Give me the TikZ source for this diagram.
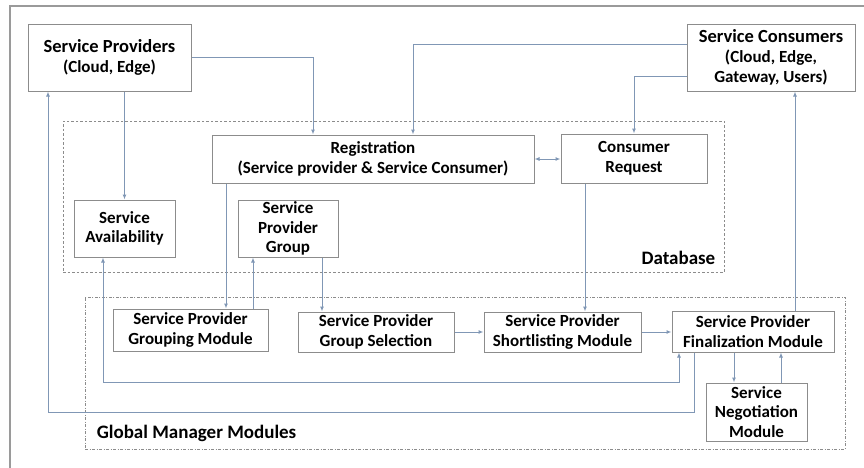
\documentclass[tikz,border=0pt]{standalone}
\usepackage{fontspec}
\setmainfont{Carlito}
\usepackage{tikz}
\usetikzlibrary{arrows.meta,positioning,calc}
\definecolor{boxgray}{HTML}{8C8C8C}
\definecolor{lnblue}{HTML}{8097B5}
\definecolor{framegray}{HTML}{9A9A9A}

\begin{document}
\begin{tikzpicture}[
  x=1pt,y=-1pt,
  b/.style={draw=boxgray,line width=1pt,fill=white,align=center,inner sep=0pt,font=\fontsize{17}{19.5}\selectfont\bfseries},
  h/.style={b,font=\fontsize{17}{20}\selectfont\bfseries},
  dbx/.style={draw=boxgray,line width=0.9pt,dash pattern=on 2.5pt off 2pt,inner sep=0pt},
  gmx/.style={draw=boxgray,line width=0.9pt,dash pattern=on 3pt off 1.5pt on 1pt off 1.5pt,inner sep=0pt},
  lbl/.style={font=\fontsize{19}{22}\selectfont\bfseries,inner sep=0pt},
  arr/.style={draw=lnblue,line width=1pt,-{Latex[length=5pt,width=4pt]}},
  darr/.style={draw=lnblue,line width=1pt,{Latex[length=5pt,width=4pt]}-{Latex[length=5pt,width=4pt]}}
]
\useasboundingbox (0,0) rectangle (864,467);
\draw[framegray,line width=2pt] (10,480) |- (880,6);

% containers
\node[dbx,minimum width=661,minimum height=151] (db) at (393.5,196.5) {};
\node[gmx,minimum width=760,minimum height=152] (gm) at (465,373) {};
\node[lbl,anchor=east] (dblbl) at ([xshift=-9pt,yshift=15pt]db.south east) {Database};
\node[lbl,anchor=west] (gmlbl) at ([xshift=12pt,yshift=16pt]gm.south west) {Global Manager Modules};

% outside actors
\node[h,minimum width=163,minimum height=67] (prov) at (109.5,57.5)
  {{\fontsize{18.5}{21}\selectfont Service Providers}\\(Cloud, Edge)};
\node[h,minimum width=168,minimum height=67] (cons) at (771,57.5)
  {{\fontsize{18.5}{21}\selectfont Service Consumers}\\(Cloud, Edge,\\Gateway, Users)};

% database
\node[b,minimum width=322,minimum height=48] (reg) at (373,159) {Registration\\(Service provider \& Service Consumer)};
\node[b,minimum width=146,minimum height=49] (creq) at (634,158.5) {Consumer\\Request};
\node[b,minimum width=101,minimum height=57] (avail) at (124.5,228.5) {Service\\Availability};
\node[b,minimum width=100,minimum height=57] (grp) at (288,228.5) {Service\\Provider\\Group};

% modules
\node[b,minimum width=155,minimum height=42] (grpmod) at (190.5,330) {Service Provider\\Grouping Module};
\node[b,minimum width=156,minimum height=40] (grpsel) at (376,332) {Service Provider\\Group Selection};
\node[b,minimum width=157,minimum height=40] (short) at (562.5,332) {Service Provider\\Shortlisting Module};
\node[b,minimum width=162,minimum height=41] (final) at (753,331.5) {Service Provider\\Finalization Module};
\node[b,minimum width=101,minimum height=58] (nego) at (756.5,412) {Service\\Negotiation\\Module};

% connectors
\draw[arr] (prov.east) -| ([xshift=-60pt]reg.north);
\draw[arr] ([yshift=13.5pt]cons.west) -| ([xshift=40pt]reg.north);
\draw[arr] ([yshift=-18.5pt]cons.west) -| (creq.north);
\draw[darr] (reg.east) -- (reg.east -| creq.west);
\draw[arr] (avail.north |- prov.south) -- (avail.north);
\draw[arr] ([xshift=-59pt]final.south) -- ++(0,60) -| ([xshift=-61.5pt]prov.south);
\draw[darr] ([xshift=-21.5pt]avail.south) -- ++(0,125) -| ([xshift=-74pt]final.south);
\draw[arr] ([xshift=-147pt]reg.south) -- ([xshift=35.5pt]grpmod.north);
\draw[arr] ([xshift=62.5pt]grpmod.north) -- ([xshift=-35pt]grp.south);
\draw[arr] ([xshift=34pt]grp.south) -- ([xshift=-54pt]grpsel.north);
\draw[arr] ([xshift=-49pt]creq.south) -- ([xshift=22.5pt]short.north);
\draw[arr] (grpsel.east) -- (short.west);
\draw[arr] (short.east) -- (short.east -| final.west);
\draw[arr] ([xshift=42pt]final.north) -- ([xshift=24pt]cons.south);
\draw[arr] ([xshift=-19pt]final.south) -- ([xshift=-22.5pt]nego.north);
\draw[arr] ([xshift=24.5pt]nego.north) -- ([xshift=28pt]final.south);
\end{tikzpicture}
\end{document}
